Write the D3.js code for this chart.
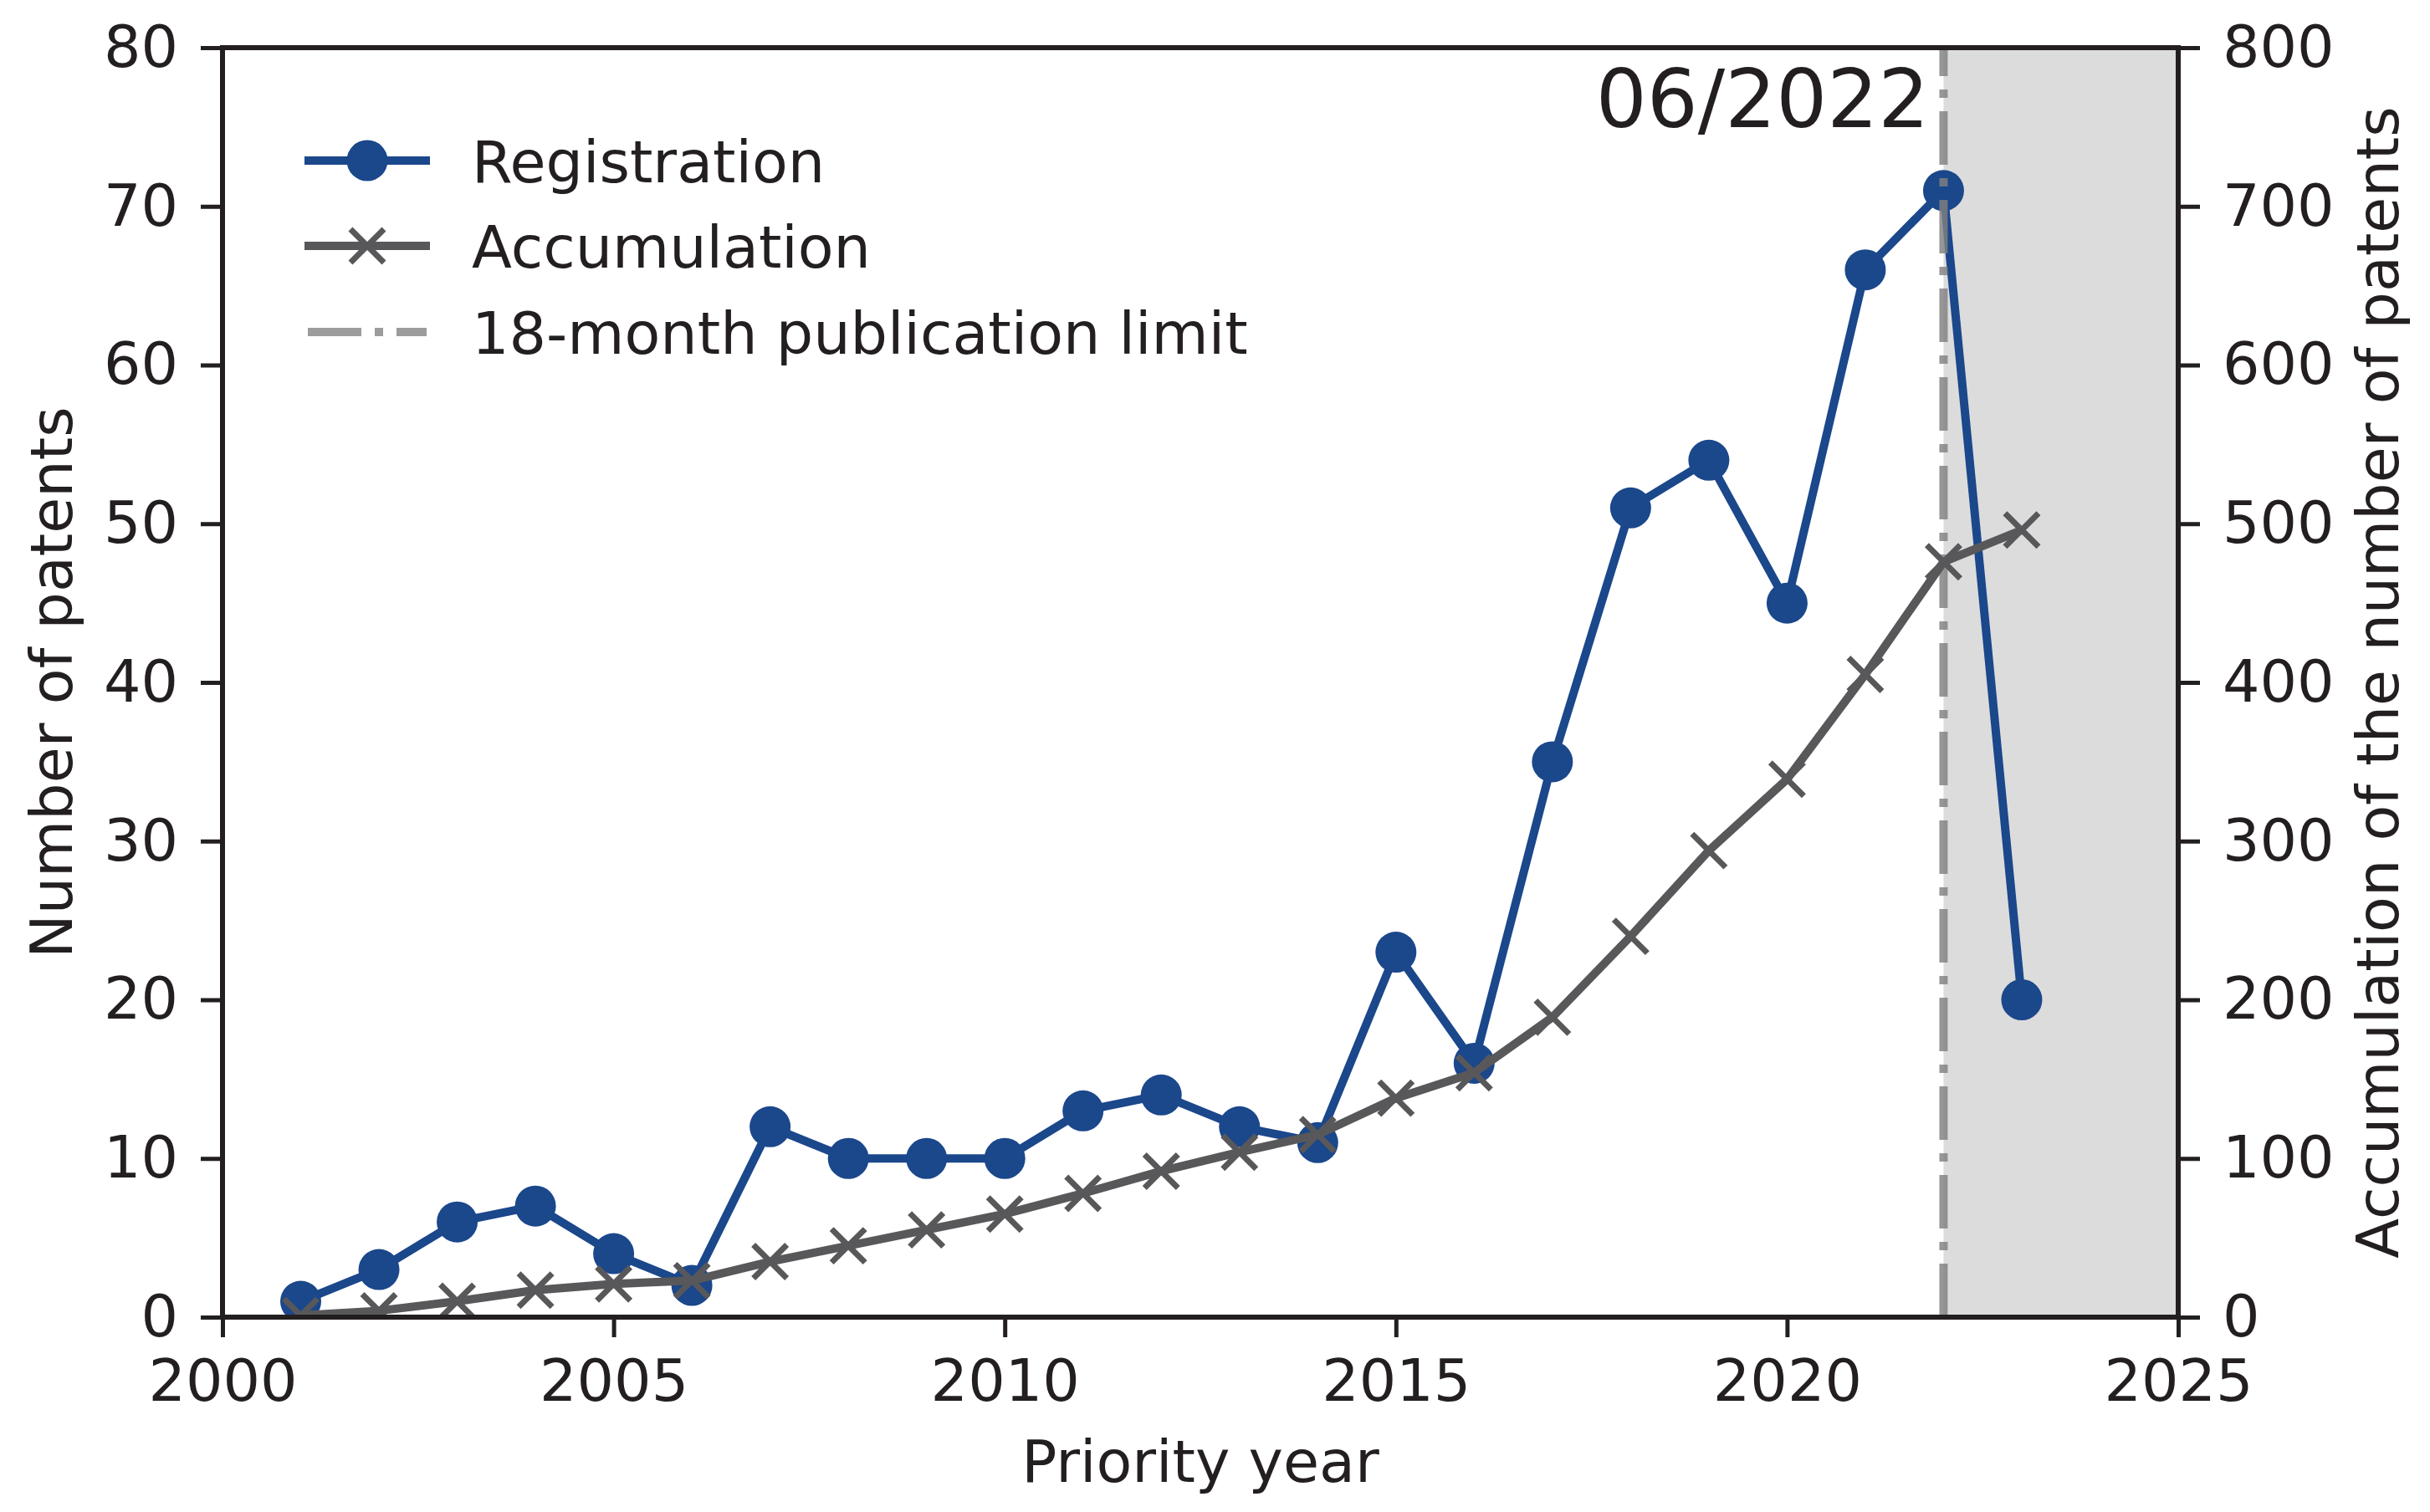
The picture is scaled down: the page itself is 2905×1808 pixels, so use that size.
<!DOCTYPE html>
<html>
<head>
<meta charset="utf-8">
<script src="https://cdn.jsdelivr.net/npm/d3@7"></script>
<style>
html,body{margin:0;padding:0;background:#fff;}
svg{display:block;}
text{font-family:"DejaVu Sans",sans-serif;fill:#231f20;}
</style>
</head>
<body>
<script>
// ---- data ----
const years = [2001,2002,2003,2004,2005,2006,2007,2008,2009,2010,2011,2012,2013,2014,2015,2016,2017,2018,2019,2020,2021,2022,2023];
const registration = [1,3,6,7,4,2,12,10,10,10,13,14,12,11,23,16,35,51,54,45,66,71,20];
const accumulation = [1,4,10,17,21,23,35,45,55,65,78,92,104,115,138,154,189,240,294,339,405,476,496];
const xTicks = [2000,2005,2010,2015,2020,2025];
const yLeftTicks = [0,10,20,30,40,50,60,70,80];
const yRightTicks = [0,100,200,300,400,500,600,700,800];
const limitYear = 2022;
const limitLabel = "06/2022";
const seriesNames = ["Registration","Accumulation","18-month publication limit"];

const W = 2905, H = 1808;
const L = 266, R = 2604, T = 57, B = 1575;
const ink = "#231f20";
const blue = "#1b478b";
const grey = "#58585a";
const fs = 70;

const svg = d3.select("body").append("svg").attr("width", W).attr("height", H);

const x = d3.scaleLinear().domain([2000, 2025]).range([L, R]);
const yL = d3.scaleLinear().domain([0, 80]).range([B, T]);
const yR = d3.scaleLinear().domain([0, 800]).range([B, T]);

svg.append("defs").append("clipPath").attr("id", "clip")
  .append("rect").attr("x", L).attr("y", T).attr("width", R - L).attr("height", B - T);

const plot = svg.append("g").attr("clip-path", "url(#clip)");

// shaded region after the publication limit
plot.append("rect")
  .attr("x", x(limitYear)).attr("y", T)
  .attr("width", x(2025) - x(limitYear)).attr("height", B - T)
  .attr("fill", "#dcdcdc");

// Registration
const regData = years.map((d, i) => [d, registration[i]]);
plot.append("path").datum(regData)
  .attr("d", d3.line().x(d => x(d[0])).y(d => yL(d[1])))
  .attr("fill", "none").attr("stroke", blue).attr("stroke-width", 10).attr("stroke-linejoin", "round");
plot.selectAll("circle.reg").data(regData).join("circle")
  .attr("class", "reg").attr("cx", d => x(d[0])).attr("cy", d => yL(d[1])).attr("r", 24.5).attr("fill", blue);

// vertical publication limit line (pattern starts at bottom)
plot.append("line")
  .attr("x1", x(limitYear)).attr("x2", x(limitYear)).attr("y1", B).attr("y2", T)
  .attr("stroke", "#808080").attr("stroke-opacity", 0.82).attr("stroke-width", 10)
  .attr("stroke-dasharray", "64,16,10,16");

// Accumulation
const accData = years.map((d, i) => [d, accumulation[i]]);
plot.append("path").datum(accData)
  .attr("d", d3.line().x(d => x(d[0])).y(d => yR(d[1])))
  .attr("fill", "none").attr("stroke", grey).attr("stroke-width", 10).attr("stroke-linejoin", "round");
const xm = 20;
plot.selectAll("path.acc").data(accData).join("path")
  .attr("class", "acc")
  .attr("transform", d => `translate(${x(d[0])},${yR(d[1])})`)
  .attr("d", `M${-xm},${-xm}L${xm},${xm}M${-xm},${xm}L${xm},${-xm}`)
  .attr("stroke", grey).attr("stroke-width", 7).attr("fill", "none");

// axes
function styleAxis(g) {
  g.select(".domain").remove();
  g.selectAll(".tick line").attr("stroke", ink).attr("stroke-width", 5);
  g.selectAll(".tick text").attr("font-size", fs).attr("fill", ink).attr("font-family", "DejaVu Sans");
}
svg.append("g").attr("transform", `translate(0,${B})`)
  .call(d3.axisBottom(x).tickValues(xTicks).tickFormat(d3.format("d")).tickSize(24).tickPadding(26))
  .call(styleAxis);
svg.append("g").attr("transform", `translate(${L},0)`)
  .call(d3.axisLeft(yL).tickValues(yLeftTicks).tickSize(26).tickPadding(27))
  .call(styleAxis);
svg.append("g").attr("transform", `translate(${R},0)`)
  .call(d3.axisRight(yR).tickValues(yRightTicks).tickSize(26).tickPadding(27))
  .call(styleAxis);

// spines
svg.append("rect").attr("x", L).attr("y", T).attr("width", R - L).attr("height", B - T)
  .attr("fill", "none").attr("stroke", ink).attr("stroke-width", 6);

// axis labels
svg.append("text").attr("x", (L + R) / 2).attr("y", 1772).attr("text-anchor", "middle")
  .attr("font-size", fs).text("Priority year");
svg.append("text").attr("transform", `translate(86,${(T + B) / 2}) rotate(-90)`)
  .attr("text-anchor", "middle").attr("font-size", fs).text("Number of patents");
svg.append("text").attr("transform", `translate(2867,${(T + B) / 2}) rotate(-90)`)
  .attr("text-anchor", "middle").attr("font-size", fs).text("Accumulation of the number of patents");

// annotation
svg.append("text").attr("x", x(limitYear) - 17).attr("y", 152).attr("text-anchor", "end")
  .attr("font-size", 96).text(limitLabel);

// legend
const lg = svg.append("g");
const lx0 = 364, lx1 = 514, lxm = 439, ltx = 564;
const ly = [192, 294, 397];
lg.append("line").attr("x1", lx0).attr("x2", lx1).attr("y1", ly[0]).attr("y2", ly[0])
  .attr("stroke", blue).attr("stroke-width", 10);
lg.append("circle").attr("cx", lxm).attr("cy", ly[0]).attr("r", 24.5).attr("fill", blue);
lg.append("line").attr("x1", lx0).attr("x2", lx1).attr("y1", ly[1]).attr("y2", ly[1])
  .attr("stroke", grey).attr("stroke-width", 10);
lg.append("path").attr("transform", `translate(${lxm},${ly[1]})`)
  .attr("d", `M${-xm},${-xm}L${xm},${xm}M${-xm},${xm}L${xm},${-xm}`)
  .attr("stroke", grey).attr("stroke-width", 7).attr("fill", "none");
lg.append("line").attr("x1", 368).attr("x2", 510).attr("y1", ly[2]).attr("y2", ly[2])
  .attr("stroke", "#808080").attr("stroke-opacity", 0.78).attr("stroke-width", 10)
  .attr("stroke-dasharray", "64,16,10,16");
seriesNames.forEach((n, i) => {
  lg.append("text").attr("x", ltx).attr("y", ly[i] + 26).attr("font-size", fs).text(n);
});
</script>
</body>
</html>
